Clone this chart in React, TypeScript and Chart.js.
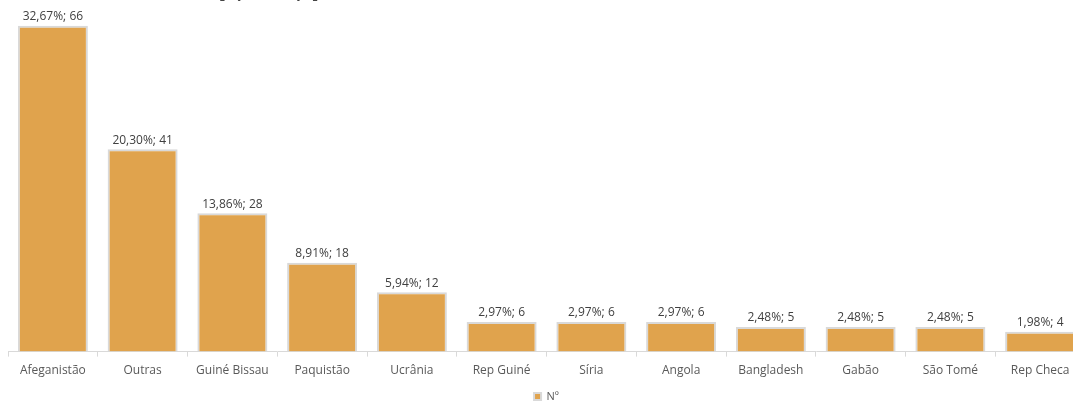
import React, { useEffect, useRef } from "react";
import { Chart, registerables } from "chart.js";

Chart.register(...registerables);

const categories = [
  "Afeganistão", "Outras", "Guiné Bissau", "Paquistão", "Ucrânia", "Rep Guiné",
  "Síria", "Angola", "Bangladesh", "Gabão", "São Tomé", "Rep Checa",
];
const values = [66, 41, 28, 18, 12, 6, 6, 6, 5, 5, 5, 4];
const percents = [
  "32,67%", "20,30%", "13,86%", "8,91%", "5,94%", "2,97%",
  "2,97%", "2,97%", "2,48%", "2,48%", "2,48%", "1,98%",
];
const seriesName = "Nº";
const titleText = "[(...)]";

const FONT = "'Open Sans', 'Noto Sans', sans-serif";

const labelPlugin = {
  id: "barLabels",
  afterDatasetsDraw(chart: any) {
    const ctx = chart.ctx;
    const meta = chart.getDatasetMeta(0);
    ctx.save();
    ctx.font = `12px ${FONT}`;
    ctx.fillStyle = "#404040";
    ctx.textAlign = "center";
    ctx.textBaseline = "bottom";
    meta.data.forEach((bar: any, i: number) => {
      ctx.fillText(`${percents[i]}; ${values[i]}`, bar.x, bar.y - 3);
    });
    ctx.restore();
  },
};

export default function App() {
  const ref = useRef<HTMLCanvasElement | null>(null);
  useEffect(() => {
    if (!ref.current) return;
    const chart = new Chart(ref.current, {
      type: "bar",
      data: {
        labels: categories,
        datasets: [
          {
            label: seriesName,
            data: values,
            backgroundColor: "#E0A34D",
            borderColor: "#D9D9D9",
            borderWidth: 2,
            categoryPercentage: 1,
            barPercentage: 0.78,
          },
        ],
      },
      options: {
        animation: false,
        responsive: false,
        maintainAspectRatio: false,
        layout: { padding: { left: 8, right: 0, top: 6, bottom: 0 } },
        scales: {
          x: {
            offset: true,
            grid: {
              display: true,
              drawOnChartArea: false,
              offset: true,
              tickLength: 5,
              color: "#D9D9D9",
            },
            border: { display: true, color: "#D9D9D9" },
            ticks: { color: "#595959", font: { family: FONT, size: 12 }, padding: 7, maxRotation: 0 },
          },
          y: { display: false, min: 0, max: 70 },
        },
        plugins: {
          legend: {
            position: "bottom",
            labels: {
              boxWidth: 7,
              boxHeight: 7,
              color: "#595959",
              font: { family: FONT, size: 11 },
              padding: 6,
            },
          },
          tooltip: { enabled: false },
        },
      },
      plugins: [labelPlugin],
    });
    return () => chart.destroy();
  }, []);

  return (
    <div
      style={{
        position: "fixed",
        left: 0,
        top: 0,
        width: 1073,
        height: 402,
        overflow: "hidden",
        background: "#fff",
      }}
    >
      <div
        style={{
          position: "absolute",
          left: 219,
          top: -21,
          fontFamily: FONT,
          fontWeight: "bold",
          fontSize: 18,
          letterSpacing: 10,
          color: "#000",
          whiteSpace: "nowrap",
        }}
      >
        {titleText}
      </div>
      <canvas ref={ref} width={1085} height={412} style={{ display: "block" }} />
    </div>
  );
}
